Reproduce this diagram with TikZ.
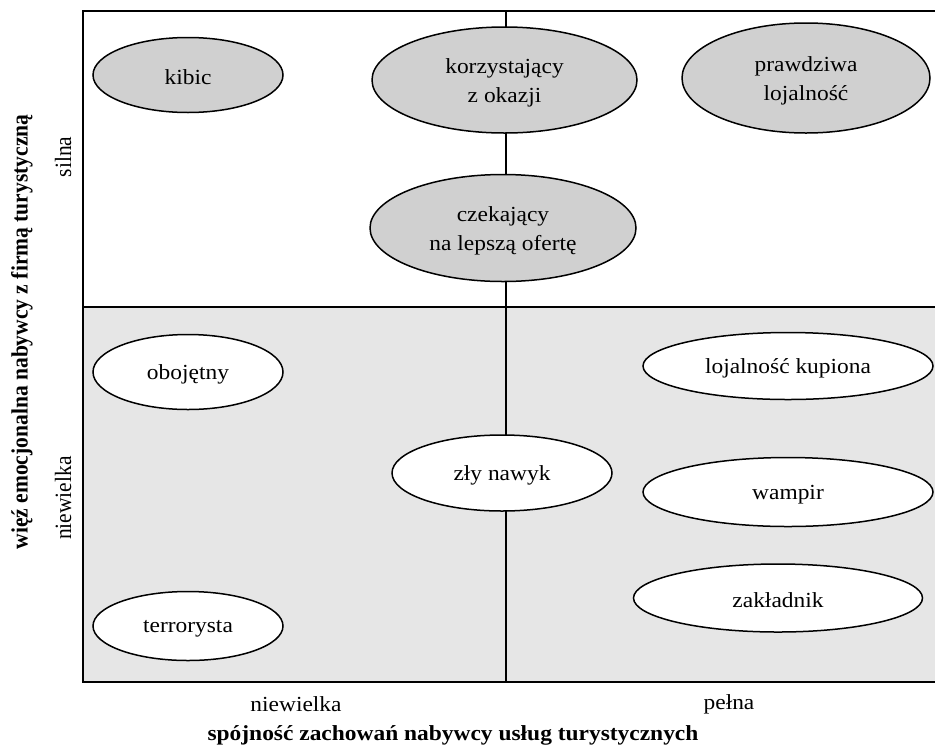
\documentclass[tikz,border=0pt]{standalone}
\usepackage{fontspec}
\setmainfont{Liberation Serif}
\newfontfamily\hfont{Liberation Serif}[FakeStretch=1.09]
\newfontfamily\vfont{Liberation Serif}[FakeStretch=0.92]
\usetikzlibrary{shapes.geometric}
\definecolor{ovalgray}{HTML}{D0D0D0}
\definecolor{lowgray}{HTML}{E6E6E6}
\begin{document}
\begin{tikzpicture}[x=0.5pt,y=-0.5pt,
  oval/.style={ellipse,draw,line width=0.75pt,inner sep=0pt},
  darkoval/.style={oval,fill=ovalgray},
  lightoval/.style={oval,fill=white},
  txt/.style={inner sep=0pt,align=center,font=\hfont\fontsize{10.75}{14.6}\selectfont},
  lbl/.style={font=\hfont\fontsize{10.75}{13.8}\selectfont,inner sep=0pt},
  ttl/.style={font=\hfont\bfseries\fontsize{10.75}{13.8}\selectfont,inner sep=0pt},
  vlbl/.style={font=\vfont\fontsize{11.7}{14}\selectfont,inner sep=0pt,rotate=90},
  vttl/.style={font=\vfont\bfseries\fontsize{11.7}{14}\selectfont,inner sep=0pt,rotate=90},
  frame/.style={line width=1pt}]
\useasboundingbox (0,0) rectangle (935,750);
\fill[lowgray] (82.5,307) rectangle (945,682);
\draw[frame] (945,11) -- (82.5,11) -- (82.5,682) -- (945,682);
\draw[frame] (82.5,307) -- (945,307);
\draw[frame] (505.5,11) -- (505.5,682);
% upper ovals
\node[darkoval,minimum width=95pt,minimum height=37.5pt] (kibic) at (188,75) {};
\node[darkoval,minimum width=132.5pt,minimum height=53pt] (okazja) at (504.5,80) {};
\node[darkoval,minimum width=124pt,minimum height=55pt] (prawdziwa) at (806,78) {};
\node[darkoval,minimum width=133pt,minimum height=53.5pt] (czekajacy) at (503,228) {};
% lower ovals
\node[lightoval,minimum width=95pt,minimum height=37.5pt] (obojetny) at (188,372) {};
\node[lightoval,minimum width=145pt,minimum height=33.5pt] (kupiona) at (788,366) {};
\node[lightoval,minimum width=110pt,minimum height=38pt] (nawyk) at (502,473) {};
\node[lightoval,minimum width=145pt,minimum height=34.5pt] (wampir) at (788,492) {};
\node[lightoval,minimum width=144.5pt,minimum height=34pt] (zakladnik) at (778,598) {};
\node[lightoval,minimum width=95pt,minimum height=34.5pt] (terrorysta) at (188,626) {};
% oval texts
\node[txt] (kibic-t) at ([yshift=-1.2pt]kibic.center) {kibic};
\node[txt] (okazja-t) at ([yshift=-1.4pt]okazja.center) {korzystający\\z okazji};
\node[txt] (prawdziwa-t) at ([yshift=-1.4pt]prawdziwa.center) {prawdziwa\\lojalność};
\node[txt] (czekajacy-t) at ([yshift=-1.4pt]czekajacy.center) {czekający\\na lepszą ofertę};
\node[txt] (obojetny-t) at ([yshift=-1.2pt]obojetny.center) {obojętny};
\node[txt] (kupiona-t) at ([yshift=-1.2pt]kupiona.center) {lojalność kupiona};
\node[txt] (nawyk-t) at ([yshift=-1.2pt]nawyk.center) {zły nawyk};
\node[txt] (wampir-t) at ([yshift=-1.2pt]wampir.center) {wampir};
\node[txt] (zakladnik-t) at ([yshift=-1.2pt]zakladnik.center) {zakładnik};
\node[txt] (terrorysta-t) at ([yshift=-1.2pt]terrorysta.center) {terrorysta};
% axis labels
\node[vlbl] (silna) at (63,157) {silna};
\node[vlbl] (yniska) at (63,498) {niewielka};
\node[vttl] (ytitle) at (22,332) {więź emocjonalna nabywcy z firmą turystyczną};
\node[lbl] (xniska) at (296,704) {niewielka};
\node[lbl] (pelna) at (729,704) {pełna};
\node[ttl] (xtitle) at (453,735) {spójność zachowań nabywcy usług turystycznych};
\end{tikzpicture}
\end{document}
